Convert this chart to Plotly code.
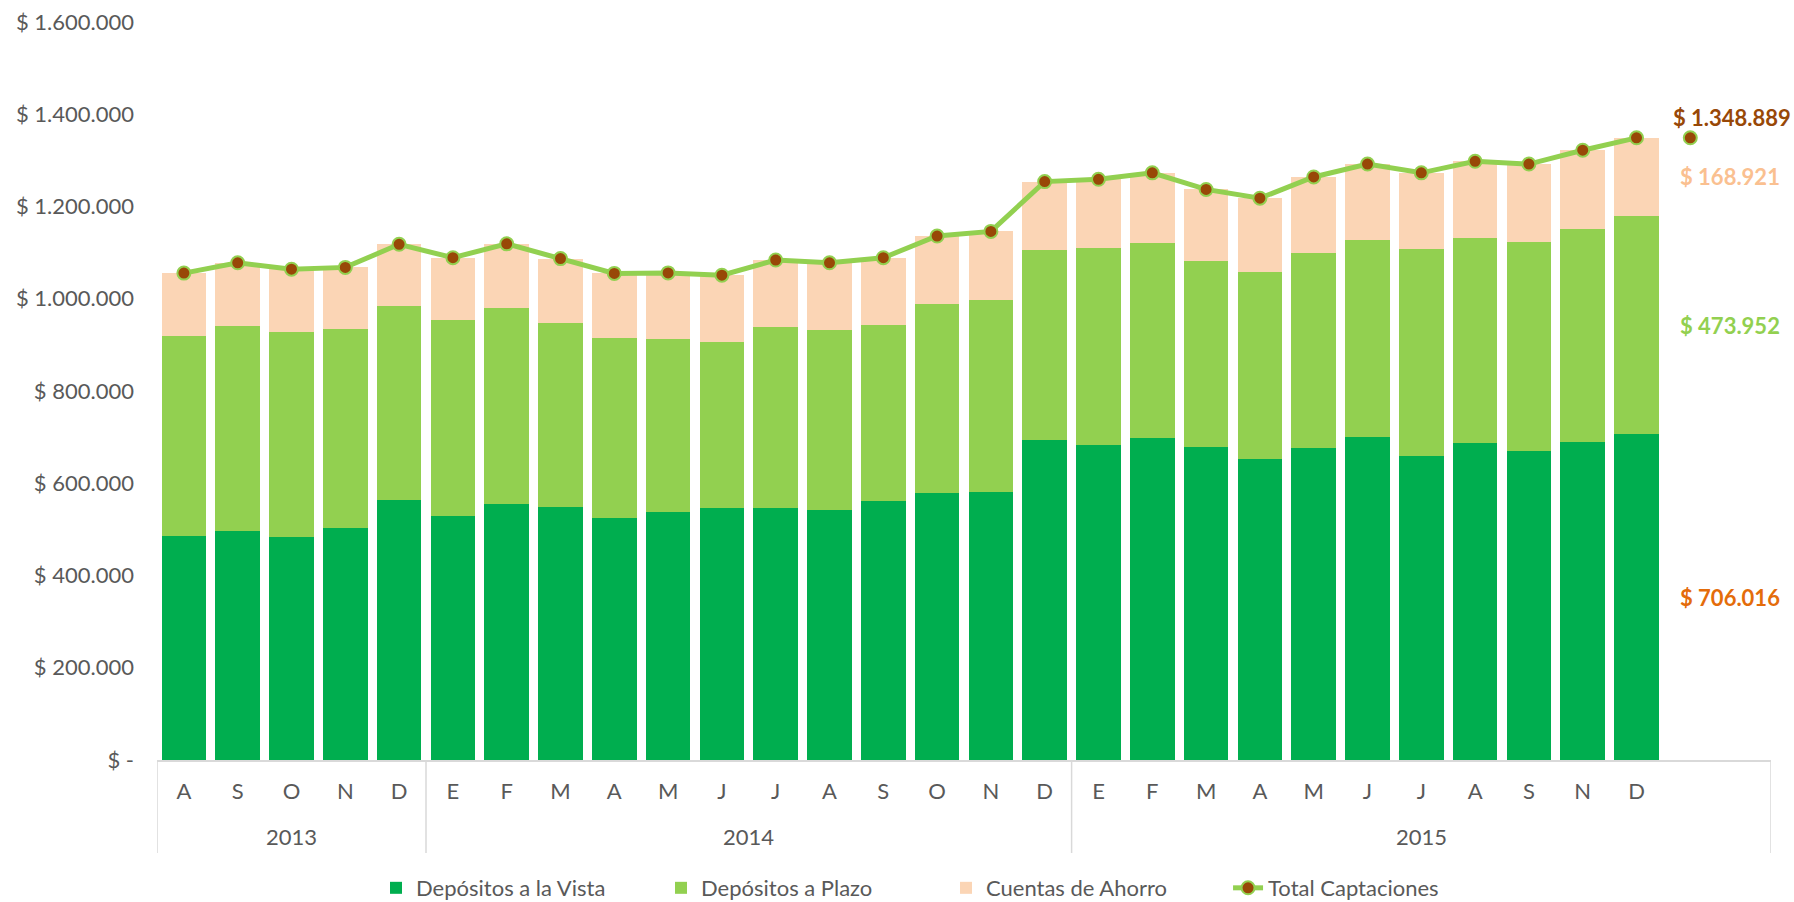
import plotly.graph_objects as go

# data (pesos)
years = ["2013"] * 5 + ["2014"] * 12 + ["2015"] * 11
months = ["A", "S", "O", "N", "D",
          "E", "F", "M", "A", "M", "J", "J", "A", "S", "O", "N", "D",
          "E", "F", "M", "A", "M", "J", "J", "A", "S", "N", "D"]

vista = [486000, 497000, 484000, 503000, 563000,
         530000, 556000, 548000, 524000, 537000, 546000, 546000, 542000, 561000, 578000, 580000, 693000,
         683000, 698000, 679000, 652000, 676000, 700000, 659000, 688000, 670000, 689000, 706016]
plazo = [434000, 444000, 445000, 432000, 421000,
         425000, 425000, 399000, 390000, 376000, 361000, 393000, 391000, 383000, 410000, 418000, 412000,
         427000, 422000, 402000, 407000, 424000, 427000, 448000, 443000, 452000, 462000, 473952]
ahorro = [135600, 137000, 135000, 133000, 134000,
          134000, 138000, 140000, 141000, 143000, 144000, 145000, 145000, 145000, 148000, 148000, 149000,
          149000, 153000, 156000, 159000, 164000, 165000, 166000, 167000, 170000, 171000, 168921]
total = [1055600, 1078000, 1064000, 1068000, 1118000,
         1089000, 1119000, 1087000, 1055000, 1056000, 1051000, 1084000, 1078000, 1089000, 1136000, 1146000, 1254000,
         1259000, 1273000, 1237000, 1218000, 1264000, 1292000, 1273000, 1298000, 1292000, 1322000, 1348889]

y_ticks = [0, 200000, 400000, 600000, 800000, 1000000, 1200000, 1400000, 1600000]
y_labels = ["$ -", "$ 200.000", "$ 400.000", "$ 600.000", "$ 800.000",
            "$ 1.000.000", "$ 1.200.000", "$ 1.400.000", "$ 1.600.000"]

COLORS = {
    "vista": "#00AE4F",
    "plazo": "#92D050",
    "ahorro": "#FBD5B5",
    "line": "#92D050",
    "dot": "#984807",
    "text": "#595959",
    "axis": "#D9D9D9",
}
FONT = "Lato, 'Open Sans', sans-serif"


def fmt(v):
    return "$ " + f"{v:,.0f}".replace(",", ".")


n = len(months)
pos = list(range(n))
slot_a = n        # empty slot with the lone total marker
slot_b = n + 1    # empty slot with the end-of-period labels
all_years = years + [years[-1], years[-1]]

fig = go.Figure()

fig.add_trace(go.Bar(x=pos, y=vista, name="Depósitos a la Vista",
                     marker_color=COLORS["vista"], marker_line_width=0))
fig.add_trace(go.Bar(x=pos, y=plazo, name="Depósitos a Plazo",
                     marker_color=COLORS["plazo"], marker_line_width=0))
fig.add_trace(go.Bar(x=pos, y=ahorro, name="Cuentas de Ahorro",
                     marker_color=COLORS["ahorro"], marker_line_width=0))

dot = dict(size=13, color=COLORS["dot"], line=dict(color=COLORS["line"], width=2))
fig.add_trace(go.Scatter(
    x=pos, y=total, name="Total Captaciones", mode="lines+markers",
    line=dict(color=COLORS["line"], width=5), marker=dot, legend="legend2",
))
fig.add_trace(go.Scatter(x=[slot_a], y=[total[-1]], mode="markers",
                         showlegend=False, marker=dot))

# end-of-period labels, each at the middle of its segment of the last bar
base = 0
for vals, col in zip([vista, plazo, ahorro], ["#E46C0A", "#92D050", "#FAC090"]):
    fig.add_annotation(
        x=slot_b, y=base + vals[-1] / 2, xref="x", yref="y", xshift=-14,
        text=fmt(vals[-1]), showarrow=False, yanchor="middle",
        font=dict(family=FONT, size=22, color=col, weight="bold"),
    )
    base += vals[-1]
fig.add_annotation(
    x=slot_b, y=total[-1], xref="x", yref="y", xshift=-12, yshift=20,
    text=fmt(total[-1]), showarrow=False, yanchor="middle",
    font=dict(family=FONT, size=22, color=COLORS["dot"], weight="bold"),
)

# year groups: labels under the months, dividers between groups
groups = []
for i, y in enumerate(all_years):
    if not groups or groups[-1][0] != y:
        groups.append([y, i, i])
    else:
        groups[-1][2] = i

div_bottom = -0.126
for y, first, last in groups:
    fig.add_annotation(x=(first + last) / 2, y=-0.1035, xref="x", yref="paper",
                       text=y, showarrow=False, yanchor="middle",
                       font=dict(size=22, color=COLORS["text"]))
    fig.add_shape(type="line", xref="x", yref="paper", x0=first - 0.5, x1=first - 0.5,
                  y0=0, y1=div_bottom, line=dict(color=COLORS["axis"], width=1.5))
fig.add_shape(type="line", xref="x", yref="paper", x0=groups[-1][2] + 0.5, x1=groups[-1][2] + 0.5,
              y0=0, y1=div_bottom, line=dict(color=COLORS["axis"], width=1.5))

legend_font = dict(size=22, color=COLORS["text"])
fig.update_layout(
    barmode="stack",
    bargap=0.17,
    width=1794,
    height=902,
    margin=dict(l=157, r=23, t=22, b=142),
    paper_bgcolor="white",
    plot_bgcolor="white",
    font=dict(family=FONT, size=22, color=COLORS["text"]),
    hovermode=False,
    xaxis=dict(
        range=[-0.5, len(all_years) - 0.5],
        tickvals=pos, ticktext=months,
        showline=True, linecolor=COLORS["axis"], linewidth=1.5,
        showgrid=False, zeroline=False, ticks="",
        ticklabelstandoff=11, automargin=False,
        tickfont=dict(size=22, color=COLORS["text"]),
    ),
    yaxis=dict(
        range=[0, 1600000],
        tickvals=y_ticks, ticktext=y_labels,
        showgrid=False, zeroline=False, showline=False,
        ticklabelstandoff=22, automargin=False,
        tickfont=dict(size=22, color=COLORS["text"]),
    ),
    legend=dict(
        orientation="h", yref="container", y=0.0155, yanchor="middle",
        x=0.1357, xanchor="left", font=legend_font,
        traceorder="normal", entrywidth=240,
    ),
    legend2=dict(
        orientation="h", yref="container", y=0.0155, yanchor="middle",
        x=0.6636, xanchor="left", font=legend_font,
    ),
)

fig.write_html("out.html", config={"displayModeBar": False},
               post_script="document.body.style.margin='0';")
